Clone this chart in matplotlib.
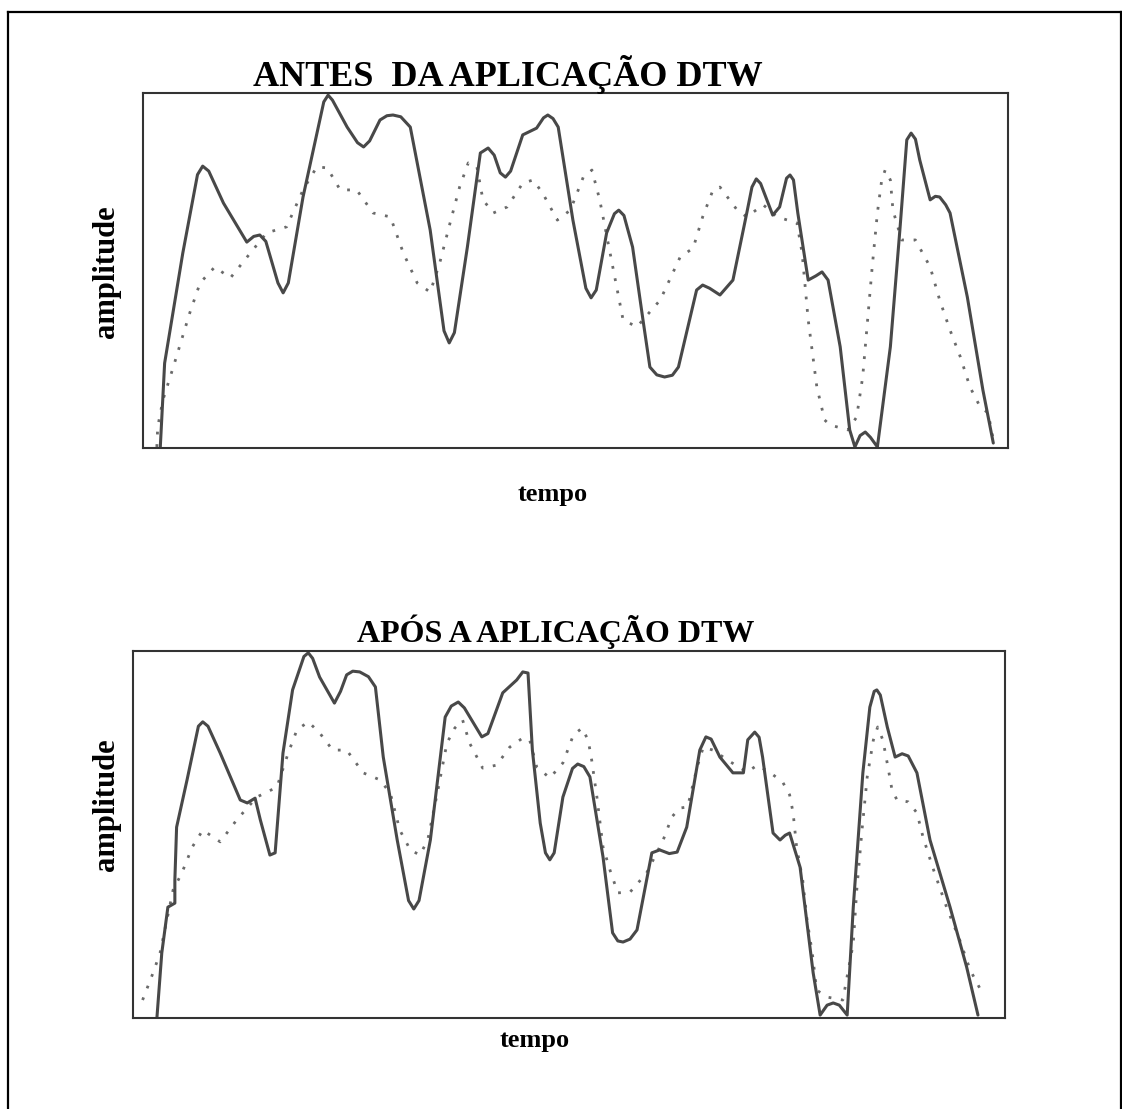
import matplotlib
matplotlib.use("Agg")
from matplotlib import pyplot as plt
from matplotlib.lines import Line2D

plt.rcParams['font.family'] = ['Liberation Serif', 'DejaVu Serif']

# antes da aplicacao DTW (tempo 0-100, amplitude 0-100)
antes_t1 = [2.0, 2.5, 4.6, 6.3, 6.9, 7.6, 9.3, 12.0, 12.8, 13.5, 14.2, 15.6, 16.2, 16.8, 18.5,
            20.9, 21.4, 21.9, 23.6, 24.8, 25.5, 26.2, 27.4, 28.2, 28.9, 29.8, 30.9, 33.2,
            34.8, 35.4, 36.0, 37.5, 39.0, 39.9, 40.6, 41.3, 41.9, 42.5, 43.9, 45.5, 46.3,
            46.8, 47.4, 48.0, 49.7, 51.2, 51.8, 52.4, 53.6, 54.5, 55.0, 55.6, 56.6, 57.8,
            58.6, 59.4, 60.3, 61.2, 61.9, 64.0, 64.7, 65.5, 66.7, 68.2, 69.8, 70.4, 70.9,
            71.4, 72.8, 73.6, 74.4, 74.8, 75.2, 75.7, 76.9, 77.8, 78.5, 79.2, 80.6, 81.7,
            82.3, 82.9, 83.5, 84.1, 84.9, 86.4, 87.5, 88.3, 88.8, 89.3, 89.8, 91.0, 91.6,
            92.1, 92.8, 93.3, 95.3, 97.1, 98.3]
antes_s1 = [0.3, 23.9, 54.9, 77.0, 79.4, 78.0, 69.0, 58.0, 59.6, 60.0, 58.2, 46.5, 43.7, 46.5, 70.7,
            97.5, 99.4, 98.0, 90.4, 86.0, 84.8, 86.5, 92.4, 93.6, 93.8, 93.3, 90.4, 61.4,
            33.0, 29.6, 32.5, 56.6, 83.1, 84.5, 82.5, 77.5, 76.3, 78.0, 88.2, 90.1, 93.0,
            93.8, 92.8, 90.4, 64.2, 45.0, 42.3, 44.5, 60.6, 66.0, 67.0, 65.5, 56.6, 36.1,
            22.8, 20.6, 20.0, 20.5, 22.8, 44.5, 45.9, 45.0, 43.1, 47.3, 66.2, 73.5, 75.8,
            74.5, 65.6, 67.9, 76.0, 76.9, 75.5, 66.2, 47.3, 48.5, 49.6, 47.3, 28.5, 5.1,
            0.3, 3.5, 4.5, 3.0, 0.3, 28.5, 61.4, 86.8, 88.7, 87.0, 81.1, 69.9, 70.9,
            70.7, 68.5, 66.2, 42.5, 16.3, 1.4]

antes_t2 = [1.6, 1.7, 2.3, 3.5, 5.4, 6.6, 8.3, 10.1, 12.4, 14.3, 16.6, 18.5, 20.1, 21.3, 22.8,
            24.7, 26.6, 28.6, 30.1, 31.7, 33.2, 34.3, 35.5, 36.6, 37.6, 38.6, 39.3, 40.5,
            42.1, 43.9, 45.1, 46.2, 47.9, 49.4, 50.9, 51.9, 52.8, 54.0, 55.5, 57.1, 57.8,
            59.8, 62.1, 63.6, 64.7, 65.9, 66.7, 68.7, 69.8, 71.7, 73.3, 75.6, 76.2, 76.9,
            77.9, 78.8, 79.4, 81.5, 82.5, 83.2, 83.7, 84.3, 84.9, 85.4, 85.8, 86.4, 86.7,
            87.7, 89.3, 91.0, 92.1, 93.3, 94.5, 95.6, 96.8, 97.7, 98.3]
antes_s2 = [0.3, 5.9, 13.5, 22.8, 38.0, 46.5, 51.0, 47.9, 54.9, 60.6, 62.3, 72.7, 79.2, 78.9, 72.7,
            72.7, 66.2, 65.1, 54.9, 46.5, 43.9, 52.1, 63.4, 73.5, 80.3, 79.2, 69.9, 66.2,
            67.9, 74.6, 75.5, 71.8, 64.2, 67.0, 76.3, 78.3, 69.9, 54.9, 36.1, 34.1, 36.1,
            41.7, 53.8, 56.3, 65.1, 72.7, 73.5, 67.0, 65.1, 68.5, 65.1, 63.4, 54.9, 36.1,
            17.2, 7.9, 6.5, 5.1, 8.7, 20.0, 34.1, 51.0, 66.2, 75.5, 78.3, 75.5, 67.0,
            58.6, 58.6, 51.0, 41.7, 33.2, 25.6, 17.2, 11.5, 9.9, 2.3]

# apos a aplicacao DTW
apos_t1 = [2.75, 3.3, 4.0, 4.8, 4.8, 5.0, 6.2, 7.5, 8.0, 8.6, 10.0, 12.3, 13.1, 14.0, 14.6,
           15.7, 16.3, 17.2, 18.3, 19.6, 20.1, 20.6, 21.4, 23.1, 23.8, 24.5, 25.2, 26.0,
           27.0, 27.8, 28.7, 30.3, 31.6, 32.2, 32.8, 34.1, 35.8, 36.5, 37.3, 38.0, 40.0,
           40.7, 42.4, 44.0, 44.7, 45.3, 45.8, 46.7, 47.3, 47.8, 48.3, 49.3, 50.4, 51.0,
           51.7, 52.4, 53.9, 55.0, 55.6, 56.2, 57.0, 57.8, 59.5, 60.4, 61.5, 62.4, 63.5,
           65.0, 65.7, 66.3, 67.3, 68.8, 70.0, 70.5, 71.3, 71.8, 72.2, 73.4, 74.2, 74.8,
           75.3, 76.5, 78.0, 78.8, 79.6, 80.3, 81.0, 81.9, 82.6, 83.7, 84.5, 85.0, 85.3,
           85.7, 86.5, 87.4, 88.2, 88.9, 89.9, 91.4, 93.7, 95.6, 96.9]
apos_s1 = [0.3, 17.7, 30.2, 31.3, 37.6, 52.0, 64.9, 79.5, 80.7, 79.5, 72.2, 59.4, 58.6, 59.9, 54.0,
           44.4, 45.0, 72.2, 89.4, 98.5, 99.5, 98.0, 92.9, 85.8, 89.0, 93.5, 94.5, 94.3,
           93.0, 90.2, 71.1, 48.5, 32.0, 29.7, 32.0, 48.5, 82.0, 85.0, 86.1, 84.5, 76.6,
           77.5, 88.6, 92.1, 94.3, 94.0, 73.0, 53.1, 45.0, 43.1, 45.0, 60.2, 68.0, 69.2,
           68.5, 65.7, 43.9, 23.2, 21.0, 20.7, 21.5, 24.0, 45.0, 45.8, 44.8, 45.2, 52.0,
           73.0, 76.6, 76.0, 71.1, 66.8, 66.8, 75.8, 77.9, 76.5, 71.1, 50.4, 48.5, 49.8,
           50.4, 41.1, 12.3, 0.8, 3.5, 4.1, 3.5, 0.8, 30.2, 66.8, 84.7, 89.0, 89.4,
           88.0, 79.3, 71.1, 72.0, 71.4, 66.8, 48.5, 30.2, 13.9, 0.8]

apos_t2 = [1.1, 2.3, 3.1, 4.6, 5.6, 6.8, 8.0, 10.0, 11.9, 14.2, 16.5, 17.8, 18.8, 20.1, 21.4,
           22.9, 24.5, 26.4, 28.3, 29.5, 30.6, 31.8, 32.9, 33.8, 34.9, 36.0, 36.9, 37.8,
           38.6, 40.1, 41.7, 43.2, 44.7, 45.5, 46.3, 47.8, 49.3, 50.5, 51.5, 52.2, 52.6,
           53.2, 53.9, 54.7, 55.6, 57.0, 58.9, 60.8, 61.8, 62.7, 63.6, 64.7, 65.4, 66.5,
           68.5, 70.4, 71.6, 73.1, 74.5, 75.3, 75.7, 76.1, 76.8, 77.3, 77.9, 78.4, 79.6,
           81.4, 82.6, 83.0, 83.6, 84.2, 84.9, 85.4, 86.0, 86.6, 87.0, 87.6, 88.9, 89.9,
           90.6, 91.7, 93.3, 94.8, 96.0, 97.4]
apos_s2 = [4.9, 12.3, 17.7, 34.9, 39.5, 46.6, 51.2, 48.0, 54.0, 60.2, 62.9, 72.2, 78.5, 80.7, 77.7,
           73.0, 73.0, 66.8, 64.9, 61.3, 51.2, 45.8, 44.4, 48.5, 61.3, 74.9, 79.0, 81.2,
           74.9, 68.1, 68.9, 73.8, 76.3, 75.7, 68.4, 65.4, 69.5, 77.1, 79.0, 75.7, 70.3,
           60.2, 46.6, 40.3, 34.1, 34.3, 39.5, 48.5, 54.8, 57.2, 57.5, 68.4, 73.8, 73.0,
           69.8, 67.0, 68.9, 66.8, 64.3, 60.8, 55.9, 46.6, 37.6, 26.7, 17.7, 7.6, 5.7,
           4.9, 20.4, 34.9, 51.2, 65.7, 75.7, 79.3, 75.7, 68.1, 62.7, 59.4, 58.9, 55.9,
           49.3, 41.1, 30.2, 21.3, 13.1, 6.8]

W, H = 1122, 1109
fig = plt.figure(figsize=(W / 100, H / 100), dpi=100)

# moldura externa
fig.add_artist(Line2D([8 / W, 8 / W], [0, 1 - 12 / H], color='black', lw=1.6))
fig.add_artist(Line2D([8 / W, 1121 / W], [1 - 12 / H, 1 - 12 / H], color='black', lw=1.6))
fig.add_artist(Line2D([1121 / W, 1121 / W], [0, 1 - 12 / H], color='black', lw=1.6))

ax1 = fig.add_axes([143 / W, 1 - 448 / H, 865 / W, 355 / H])
ax2 = fig.add_axes([133 / W, 1 - 1018 / H, 872 / W, 367 / H])

for ax, t1, s1, t2, s2 in [(ax1, antes_t1, antes_s1, antes_t2, antes_s2),
                           (ax2, apos_t1, apos_s1, apos_t2, apos_s2)]:
    ax.plot(t2, s2, color='#6a6a6a', lw=2.0, linestyle=(0, (1, 3.5)), clip_on=False)
    ax.plot(t1, s1, color='#484848', lw=2.2, solid_joinstyle='round', solid_capstyle='round')
    ax.set_xlim(0, 100)
    ax.set_ylim(0, 100)
    ax.set_xticks([])
    ax.set_yticks([])
    for sp in ax.spines.values():
        sp.set_color('#333333')
        sp.set_linewidth(1.5)

fig.text(508 / W, 1 - 74 / H, "ANTES  DA APLICAÇÃO DTW", ha='center', va='center',
         fontsize=26, fontweight='bold')
fig.text(556 / W, 1 - 632 / H, "APÓS A APLICAÇÃO DTW", ha='center', va='center',
         fontsize=23, fontweight='bold')
fig.text(107 / W, 1 - 272 / H, "amplitude", rotation=90, ha='center', va='center',
         fontsize=22, fontweight='bold')
fig.text(107 / W, 1 - 805 / H, "amplitude", rotation=90, ha='center', va='center',
         fontsize=22, fontweight='bold')
fig.text(553 / W, 1 - 495 / H, "tempo", ha='center', va='center',
         fontsize=19, fontweight='bold')
fig.text(535 / W, 1 - 1040 / H, "tempo", ha='center', va='center',
         fontsize=19, fontweight='bold')

fig.savefig("out.png", dpi=100, facecolor='white')
